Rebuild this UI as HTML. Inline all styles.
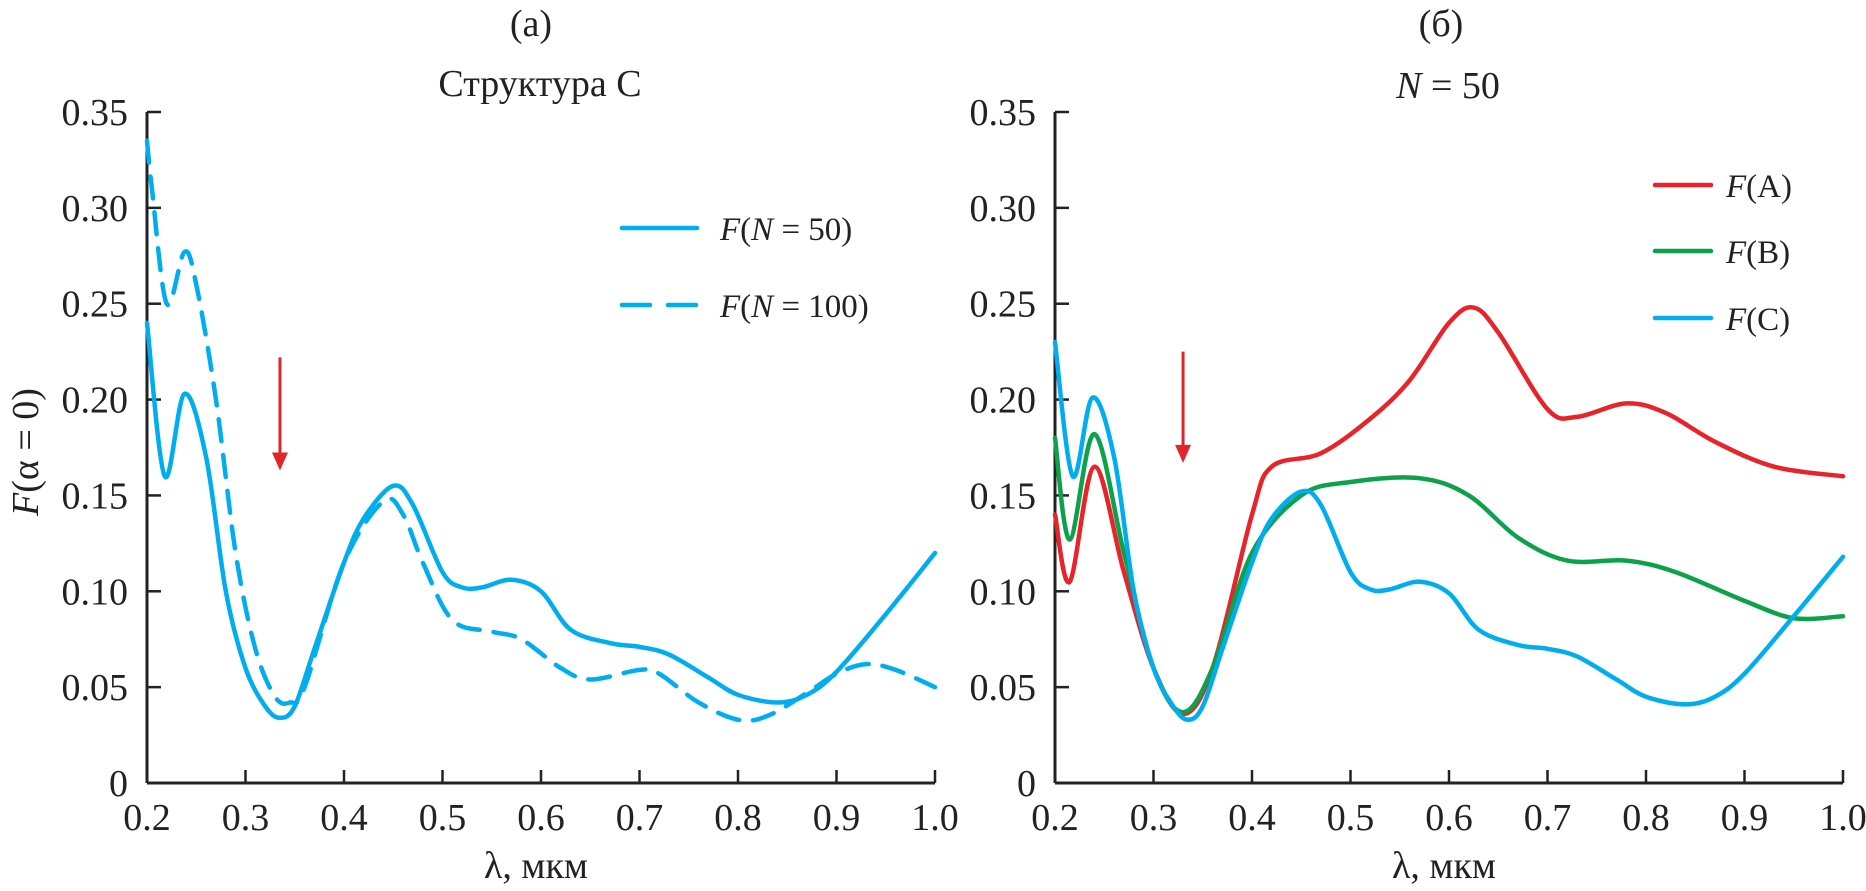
<!DOCTYPE html>
<html><head><meta charset="utf-8"><style>
html,body{margin:0;padding:0;background:#fff;}
svg{display:block;font-family:"Liberation Serif",serif;}
</style></head><body>
<svg id="fig" width="1866" height="891" viewBox="0 0 1866 891" xmlns="http://www.w3.org/2000/svg"></svg>
<script>
const xTicks=[0.2,0.3,0.4,0.5,0.6,0.7,0.8,0.9,1.0];
const yTicks=[0,0.05,0.10,0.15,0.20,0.25,0.30,0.35];
const xA50=[0.20,0.218,0.238,0.26,0.28,0.30,0.32,0.335,0.35,0.37,0.40,0.42,0.45,0.47,0.50,0.52,0.54,0.57,0.60,0.63,0.67,0.70,0.73,0.77,0.80,0.84,0.87,0.90,0.95,1.0];
const yA50=[0.24,0.16,0.203,0.17,0.10,0.06,0.04,0.034,0.04,0.07,0.115,0.138,0.155,0.145,0.11,0.102,0.102,0.106,0.10,0.08,0.073,0.071,0.067,0.055,0.046,0.042,0.046,0.058,0.088,0.12];
const xA100=[0.20,0.205,0.22,0.238,0.25,0.27,0.29,0.31,0.33,0.345,0.36,0.40,0.44,0.46,0.48,0.51,0.55,0.58,0.62,0.65,0.70,0.72,0.76,0.80,0.83,0.87,0.90,0.93,0.96,1.0];
const yA100=[0.335,0.31,0.25,0.277,0.26,0.20,0.12,0.07,0.045,0.042,0.05,0.115,0.147,0.14,0.115,0.085,0.079,0.075,0.06,0.054,0.059,0.057,0.042,0.033,0.035,0.047,0.057,0.062,0.059,0.05];
const xRA=[0.20,0.215,0.24,0.27,0.30,0.33,0.36,0.40,0.42,0.47,0.52,0.56,0.60,0.625,0.65,0.70,0.73,0.78,0.82,0.87,0.93,1.0];
const yRA=[0.14,0.105,0.165,0.11,0.06,0.036,0.06,0.14,0.165,0.172,0.19,0.21,0.24,0.248,0.235,0.195,0.191,0.198,0.193,0.178,0.165,0.16];
const xRB=[0.20,0.215,0.24,0.27,0.30,0.33,0.36,0.40,0.45,0.50,0.57,0.62,0.67,0.72,0.78,0.83,0.90,0.95,1.0];
const yRB=[0.18,0.127,0.182,0.12,0.06,0.037,0.06,0.12,0.15,0.157,0.159,0.15,0.128,0.116,0.116,0.11,0.095,0.086,0.087];
const xRC=[0.20,0.218,0.238,0.26,0.28,0.30,0.32,0.335,0.35,0.37,0.40,0.42,0.45,0.47,0.50,0.52,0.54,0.57,0.60,0.63,0.67,0.70,0.73,0.77,0.80,0.84,0.87,0.90,0.95,1.0];
const yRC=[0.23,0.16,0.201,0.17,0.10,0.06,0.04,0.033,0.04,0.07,0.115,0.138,0.152,0.145,0.11,0.101,0.101,0.105,0.099,0.08,0.072,0.07,0.066,0.054,0.045,0.041,0.045,0.057,0.087,0.118];

const NS="http://www.w3.org/2000/svg";
const svg=document.getElementById('fig');
function el(t,a,p){const e=document.createElementNS(NS,t);for(const k in a)e.setAttribute(k,a[k]);(p||svg).appendChild(e);return e;}
const Y0=783,Y1=112,W=788;
function sy(v){return Y0-(v/0.35)*(Y0-Y1);}
function mk(x0){return v=>x0+(v-0.2)/0.8*W;}
function path(xs,ys,sx){
  const p=xs.map((x,i)=>[sx(x),sy(ys[i])]);
  let d=`M${p[0][0]},${p[0][1]}`;
  for(let i=0;i<p.length-1;i++){
    const a=p[Math.max(0,i-1)],b=p[i],c=p[i+1],e=p[Math.min(p.length-1,i+2)];
    d+=` C${b[0]+(c[0]-a[0])/6},${b[1]+(c[1]-a[1])/6} ${c[0]-(e[0]-b[0])/6},${c[1]-(e[1]-b[1])/6} ${c[0]},${c[1]}`;
  }
  return d;
}
function axes(x0,name){
  const sx=mk(x0);
  const g=el('g',{});
  
  
  el('line',{x1:x0,y1:Y1,x2:x0,y2:Y0,stroke:'#222','stroke-width':3},g);
  el('line',{x1:x0,y1:Y0,x2:x0+W,y2:Y0,stroke:'#222','stroke-width':3},g);
  yTicks.forEach(v=>{
    el('line',{x1:x0,y1:sy(v),x2:x0+14,y2:sy(v),stroke:'#222','stroke-width':2.5},g);
    const t=el('text',{x:x0-19,y:sy(v)+13,'text-anchor':'end','font-size':38,fill:'#222'},g);
    t.textContent=v===0?'0':v.toFixed(2);
    
    
  });
  xTicks.forEach(v=>{
    if(v>0.2) el('line',{x1:sx(v),y1:Y0,x2:sx(v),y2:Y0-13,stroke:'#222','stroke-width':2.5},g);
    const t=el('text',{x:sx(v),y:830,'text-anchor':'middle','font-size':38,fill:'#222'},g);
    t.textContent=v.toFixed(1);
    
    
  });
  const xl=el('text',{x:x0+W/2-5,y:878,'text-anchor':'middle','font-size':38,fill:'#222'},g);
  xl.textContent='λ, мкм';
  
  
  return sx;
}
function line(d,color,name,dash){
  const p=el('path',{d:d,fill:'none',stroke:color,'stroke-width':4.5,'stroke-linecap':'round','stroke-linejoin':'round'});
  if(dash)p.setAttribute('stroke-dasharray',dash);
  
  
}
function arrow(x,ya,yb,name){
  const g=el('g',{});
  
  
  el('line',{x1:x,y1:ya,x2:x,y2:yb-12,stroke:'#e0262b','stroke-width':3},g);
  el('polygon',{points:`${x-8},${yb-18} ${x+8},${yb-18} ${x},${yb}`,fill:'#e0262b'},g);
}
function txt(x,y,html,size,name,anchor){
  const t=el('text',{x:x,y:y,'font-size':size,fill:'#222','text-anchor':anchor||'start'});
  t.innerHTML=html;
  
  
}
const CYAN='#00aeef';
// Left
const sxL=axes(147,'left');
line(path(xA100,yA100,sxL),CYAN,'series-n100','22,14');
line(path(xA50,yA50,sxL),CYAN,'series-n50');
arrow(sxL(0.335),sy(0.222),sy(0.163),'left-arrow');
txt(531,36,'(а)',38,'left-panel-label','middle');
txt(540,96,'Структура С',38,'left-title','middle');
line('M622,228 L697,228',CYAN,'legend-n50-line');
line('M622,305 L697,305',CYAN,'legend-n100-line','28,18');
txt(720,240,'<tspan font-style="italic">F</tspan>(<tspan font-style="italic">N</tspan> = 50)',33,'legend-n50-label');
txt(720,317,'<tspan font-style="italic">F</tspan>(<tspan font-style="italic">N</tspan> = 100)',33,'legend-n100-label');
const yl=el('text',{x:0,y:0,'font-size':38,fill:'#222','text-anchor':'middle',transform:'translate(38,452) rotate(-90)'});
yl.innerHTML='<tspan font-style="italic">F</tspan>(α = 0)';


// Right
const sxR=axes(1055,'right');
line(path(xRA,yRA,sxR),'#e8242a','series-a');
line(path(xRB,yRB,sxR),'#0ea14b','series-b');
line(path(xRC,yRC,sxR),CYAN,'series-c');
arrow(sxR(0.33),sy(0.225),sy(0.167),'right-arrow');
txt(1441,36,'(б)',38,'right-panel-label','middle');
txt(1448,98,'<tspan font-style="italic">N</tspan> = 50',38,'right-title','middle');
line('M1655,185 L1711,185','#e8242a','legend-a-line');
line('M1655,251 L1711,251','#0ea14b','legend-b-line');
line('M1655,318 L1711,318',CYAN,'legend-c-line');
txt(1726,197,'<tspan font-style="italic">F</tspan>(A)',33,'legend-a-label');
txt(1726,263,'<tspan font-style="italic">F</tspan>(B)',33,'legend-b-label');
txt(1726,330,'<tspan font-style="italic">F</tspan>(C)',33,'legend-c-label');
</script>
</body></html>
